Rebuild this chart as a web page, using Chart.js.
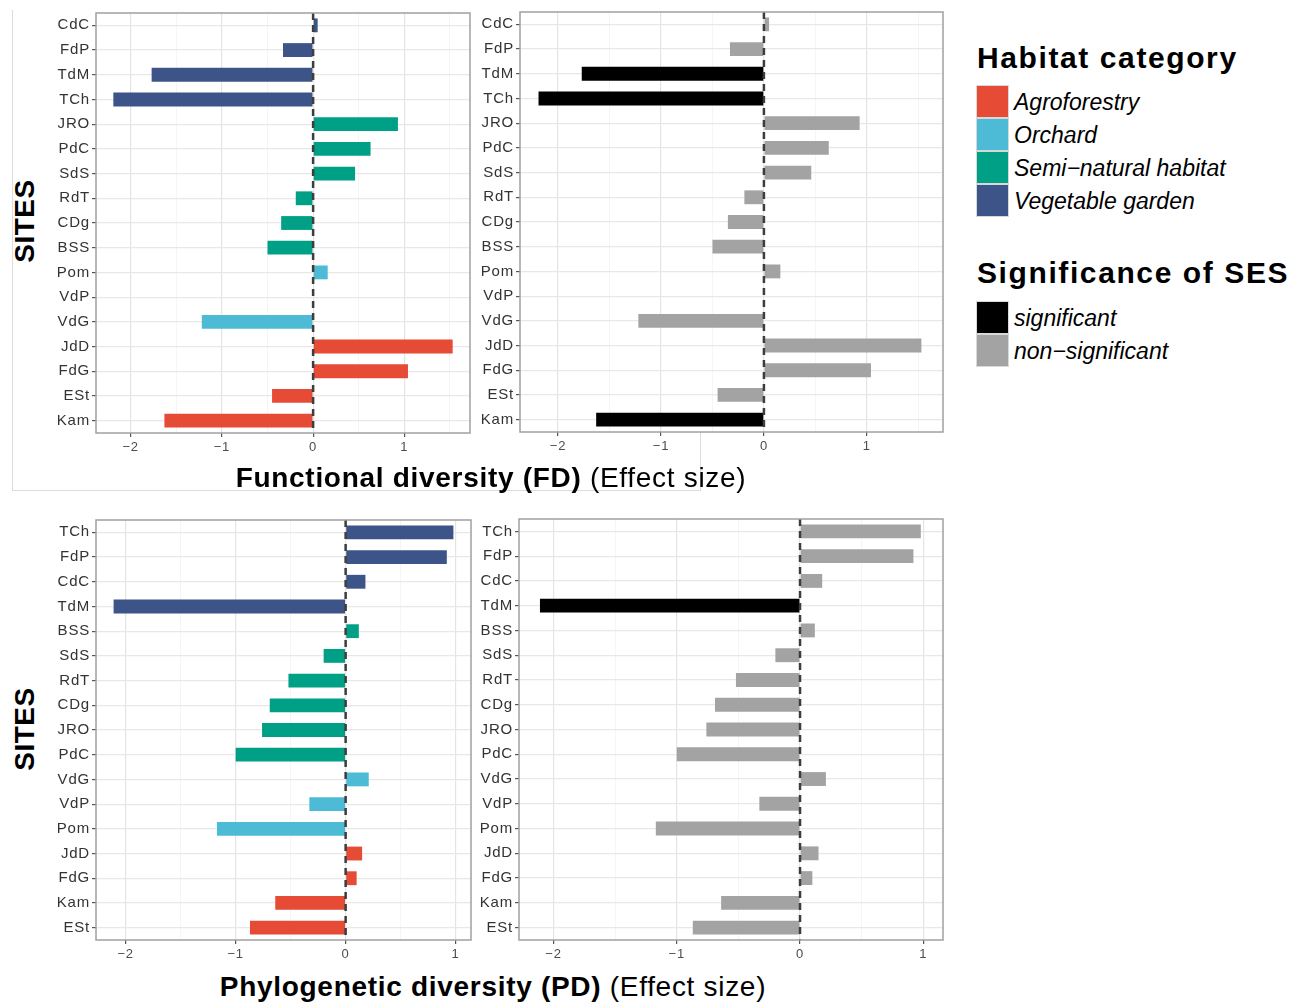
<!DOCTYPE html>
<html>
<head>
<meta charset="utf-8">
<script src="https://cdn.jsdelivr.net/npm/chart.js@4.4.0/dist/chart.umd.min.js"></script>
<style>
  body { margin: 0; background: #fff; width: 1306px; height: 1003px; position: relative; overflow: hidden;
         font-family: "Liberation Sans", Arial, sans-serif; color: #000; }
  canvas { position: absolute; }
  .frame { position: absolute; border-color: #dcdcdc; border-style: solid; border-width: 0; }
  .axis-title { position: absolute; font-size: 28px; letter-spacing: 0.7px; white-space: nowrap; transform: translateX(-50%); line-height: 30px; }
  .axis-title b { font-weight: bold; }
  .sites { position: absolute; font-size: 28px; letter-spacing: 0.5px; font-weight: bold; transform: translate(-50%, -50%) rotate(-90deg); line-height: 30px; }
  .legend-title { position: absolute; left: 977px; font-size: 30px; letter-spacing: 1.6px; font-weight: bold; line-height: 32px; white-space: nowrap; }
  .key { position: absolute; left: 976px; width: 31px; height: 31px; border: 1px solid #d8d8d8; }
  .key-label { position: absolute; left: 1014px; font-size: 23px; font-style: italic; line-height: 24px; white-space: nowrap; }
</style>
</head>
<body>

<div class="frame" style="left:12px; top:10px; width:688px; height:480px; border-left-width:1px; border-bottom-width:1px;"></div>
<div class="frame" style="left:700px; top:432px; width:0; height:58px; border-left-width:1px;"></div>

<canvas id="fdHabitat" width="435" height="465" style="left:40px; top:0px;"></canvas>
<canvas id="fdSignif" width="480" height="465" style="left:470px; top:0px;"></canvas>
<canvas id="pdHabitat" width="435" height="465" style="left:40px; top:505px;"></canvas>
<canvas id="pdSignif" width="480" height="465" style="left:470px; top:505px;"></canvas>

<div class="sites" style="left:25px; top:221px;">SITES</div>
<div class="sites" style="left:25px; top:729px;">SITES</div>
<div class="axis-title" style="left:491px; top:463px;"><b>Functional diversity (FD)</b> (Effect size)</div>
<div class="axis-title" style="left:493px; top:972px;"><b>Phylogenetic diversity (PD)</b> (Effect size)</div>

<div id="legend"></div>

<script>
// Sites, top to bottom, as they appear in each panel
const fdSites = ['CdC', 'FdP', 'TdM', 'TCh', 'JRO', 'PdC', 'SdS', 'RdT', 'CDg', 'BSS', 'Pom', 'VdP', 'VdG', 'JdD', 'FdG', 'ESt', 'Kam'];
const fdValues = [0.05, -0.33, -1.77, -2.19, 0.93, 0.63, 0.46, -0.19, -0.35, -0.50, 0.16, 0, -1.22, 1.53, 1.04, -0.45, -1.63];
const fdSignificant = [false, false, true, true, false, false, false, false, false, false, false, false, false, false, false, false, true];

const pdSites = ['TCh', 'FdP', 'CdC', 'TdM', 'BSS', 'SdS', 'RdT', 'CDg', 'JRO', 'PdC', 'VdG', 'VdP', 'Pom', 'JdD', 'FdG', 'Kam', 'ESt'];
const pdValues = [0.98, 0.92, 0.18, -2.11, 0.12, -0.20, -0.52, -0.69, -0.76, -1.00, 0.21, -0.33, -1.17, 0.15, 0.10, -0.64, -0.87];
const pdSignificant = [false, false, false, true, false, false, false, false, false, false, false, false, false, false, false, false, false];

const habitatCategories = ['Agroforestry', 'Orchard', 'Semi\u2212natural habitat', 'Vegetable garden'];
const significanceLevels = ['significant', 'non\u2212significant'];

// habitat of each site (index into habitatCategories)
const siteHabitat = {
  JdD: 0, FdG: 0, ESt: 0, Kam: 0,
  Pom: 1, VdP: 1, VdG: 1,
  JRO: 2, PdC: 2, SdS: 2, RdT: 2, CDg: 2, BSS: 2,
  CdC: 3, FdP: 3, TdM: 3, TCh: 3
};

const habitatColors = ['#E64B35', '#4DBBD5', '#00A087', '#3C5488'];
const signifColors = ['#000000', '#a3a3a3'];

// Legend
const legend = document.getElementById('legend');
function addLegend(title, titleTop, labels, colors, keyTop) {
  legend.insertAdjacentHTML('beforeend', `<div class="legend-title" style="top:${titleTop}px">${title}</div>`);
  labels.forEach((lab, i) => {
    const top = keyTop + i * 33;
    legend.insertAdjacentHTML('beforeend',
      `<div class="key" style="top:${top}px; background:${colors[i]}"></div>` +
      `<div class="key-label" style="top:${top + 5}px">${lab}</div>`);
  });
}
addLegend('Habitat category', 42, habitatCategories, habitatColors, 85);
addLegend('Significance of SES', 257, significanceLevels, signifColors, 301);

const isMajor = v => Math.abs(v - Math.round(v)) < 1e-6;

// Panel border + dashed zero line
const panelDecor = {
  id: 'panelDecor',
  beforeDraw(chart) {
    chart.ctx.letterSpacing = '0.8px';
  },
  afterDatasetsDraw(chart) {
    const { ctx, chartArea: a } = chart;
    const x0 = chart.scales.x.getPixelForValue(0);
    ctx.save();
    ctx.strokeStyle = '#3d3d3d';
    ctx.lineWidth = 2.5;
    ctx.setLineDash([7, 5]);
    ctx.beginPath();
    ctx.moveTo(x0, a.top);
    ctx.lineTo(x0, a.bottom);
    ctx.stroke();
    ctx.setLineDash([]);
    ctx.strokeStyle = '#a0a0a0';
    ctx.lineWidth = 1.5;
    ctx.strokeRect(a.left, a.top, a.right - a.left, a.bottom - a.top);
    ctx.restore();
  }
};

function makePanel(id, sites, values, colors, opt) {
  new Chart(document.getElementById(id), {
    type: 'bar',
    data: {
      labels: sites,
      datasets: [{
        data: values,
        backgroundColor: colors,
        borderWidth: 0,
        barPercentage: 0.56,
        categoryPercentage: 1
      }]
    },
    options: {
      indexAxis: 'y',
      responsive: false,
      animation: false,
      layout: { padding: { top: opt.top, right: opt.right, left: 0, bottom: 0 } },
      plugins: { legend: { display: false }, tooltip: { enabled: false } },
      scales: {
        x: {
          type: 'linear',
          min: opt.min,
          max: opt.max,
          border: { display: false },
          grid: {
            color: c => isMajor(c.tick.value) ? '#e4e4e4' : '#f2f2f2',
            lineWidth: c => isMajor(c.tick.value) ? 1.2 : 0.8,
            tickColor: c => isMajor(c.tick.value) ? '#555' : 'rgba(0,0,0,0)',
            tickLength: 4
          },
          ticks: {
            stepSize: 0.5,
            includeBounds: false,
            autoSkip: false,
            maxRotation: 0,
            padding: 3,
            color: '#4d4d4d',
            font: { family: '"Liberation Sans", Arial, sans-serif', size: 13 },
            callback: v => isMajor(v) ? (v < 0 ? '\u2212' + Math.abs(Math.round(v)) : String(Math.round(v))) : ''
          },
          afterFit: s => { s.height = opt.xh; }
        },
        y: {
          type: 'category',
          offset: true,
          border: { display: false },
          grid: { offset: false, color: '#e8e8e8', lineWidth: 1.2, tickColor: '#555', tickLength: 4 },
          ticks: {
            autoSkip: false,
            padding: 2,
            color: '#333',
            font: { family: '"Liberation Sans", Arial, sans-serif', size: 15 }
          },
          afterFit: s => { s.width = opt.yw; }
        }
      }
    },
    plugins: [panelDecor]
  });
}

const fdHabitatColors = fdSites.map(s => habitatColors[siteHabitat[s]]);
const pdHabitatColors = pdSites.map(s => habitatColors[siteHabitat[s]]);
const fdSignifColors = fdSignificant.map(b => signifColors[b ? 0 : 1]);
const pdSignifColors = pdSignificant.map(b => signifColors[b ? 0 : 1]);

makePanel('fdHabitat', fdSites, fdValues, fdHabitatColors, { min: -2.38, max: 1.72, top: 13, right: 5, yw: 56, xh: 32 });
makePanel('fdSignif', fdSites, fdValues, fdSignifColors, { min: -2.37, max: 1.74, top: 12, right: 7, yw: 50, xh: 33 });
makePanel('pdHabitat', pdSites, pdValues, pdHabitatColors, { min: -2.27, max: 1.14, top: 15, right: 4, yw: 56, xh: 30 });
makePanel('pdSignif', pdSites, pdValues, pdSignifColors, { min: -2.28, max: 1.16, top: 14, right: 7, yw: 49, xh: 30 });
</script>
</body>
</html>
